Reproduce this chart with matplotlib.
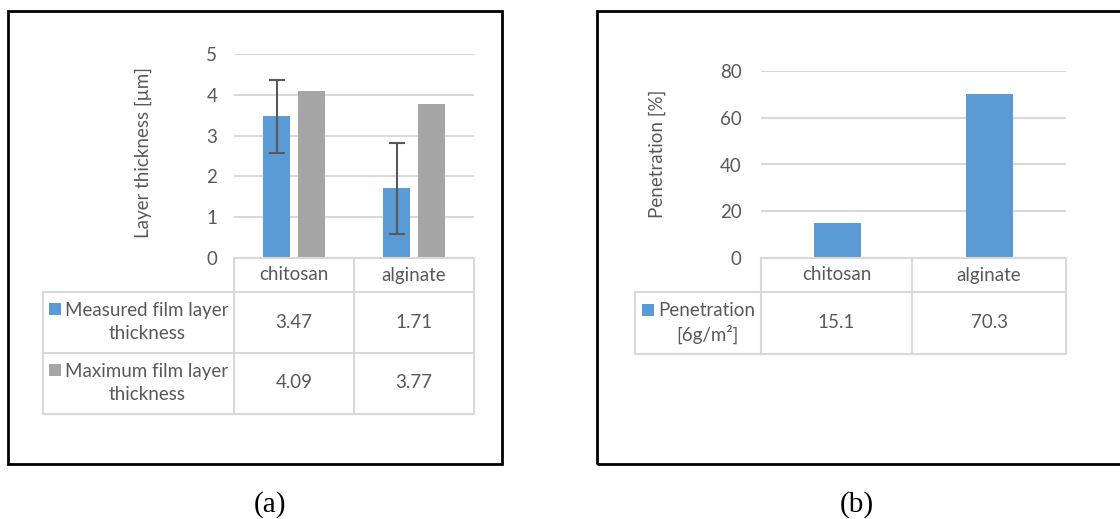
import numpy as np
import matplotlib
matplotlib.use("Agg")
import matplotlib.pyplot as plt
from matplotlib.patches import Rectangle
from matplotlib.lines import Line2D

# data
categories = ["chitosan", "alginate"]
measured = [3.47, 1.71]
measured_err = [0.9, 1.12]
maximum = [4.09, 3.77]
penetration = [15.1, 70.3]

BLUE = "#5b9bd5"
GRAY = "#a5a5a5"
TXT = "#595959"
GRID = "#d9d9d9"
FS = 13.5

W, H = 1120, 519
plt.rcParams['font.family'] = ['Lato', 'DejaVu Sans']

fig = plt.figure(figsize=(W / 100, H / 100), dpi=100)


def fx(x):
    return x / W


def fy(y):
    return 1 - y / H


def hline(x0, x1, y, color=GRID, lw=1.5):
    fig.add_artist(Line2D([fx(x0), fx(x1)], [fy(y), fy(y)], color=color, lw=lw))


def vline(x, y0, y1, color=GRID, lw=1.5):
    fig.add_artist(Line2D([fx(x), fx(x)], [fy(y0), fy(y1)], color=color, lw=lw))


def txt(x, y, s, **kw):
    kw.setdefault("color", TXT)
    kw.setdefault("fontsize", FS)
    kw.setdefault("ha", "center")
    kw.setdefault("va", "center")
    fig.text(fx(x), fy(y), s, **kw)


def square(x, y, color, size=12):
    fig.add_artist(Rectangle((fx(x), fy(y + size)), size / W, size / H, color=color, lw=0))


def make_axes(left, right, top, bottom):
    ax = fig.add_axes([fx(left), fy(bottom), (right - left) / W, (bottom - top) / H])
    for s in ax.spines.values():
        s.set_visible(False)
    ax.tick_params(length=0, colors=TXT, labelsize=FS)
    ax.set_xticks([])
    ax.yaxis.grid(True, color=GRID, lw=1.5)
    ax.set_axisbelow(True)
    ax.set_xlim(-0.5, len(categories) - 0.5)
    return ax


# outer frames
fig.add_artist(Rectangle((fx(8), fy(464)), (502 - 8) / W, (464 - 11) / H,
                         fill=False, ec="black", lw=2))
fig.add_artist(Rectangle((fx(597), fy(464)), (1125 - 597) / W, (464 - 11) / H,
                         fill=False, ec="black", lw=2))

# ---------- panel (a) ----------
x = np.arange(len(categories))
ax1 = make_axes(234, 474, 54, 258)
ax1.set_ylim(0, 5)
ax1.set_yticks(range(0, 6))
ax1.tick_params(axis="y", pad=12)
ax1.bar(x - 0.145, measured, 0.22, color=BLUE, yerr=measured_err,
        error_kw=dict(ecolor="#595959", lw=1.5, capsize=6, capthick=1.5))
ax1.bar(x + 0.145, maximum, 0.22, color=GRAY)
txt(143, 152, "Layer thickness [µm]", rotation=90)

# table (a)
colx = [43, 234, 354, 474]
rowy = [258, 292, 353, 414]
hline(234, 474, rowy[0])
for y in rowy[1:]:
    hline(colx[0], colx[-1], y)
vline(colx[0], rowy[1], rowy[-1])
for c in colx[1:]:
    vline(c, rowy[0], rowy[-1])
for i, cat in enumerate(categories):
    cx = (colx[i + 1] + colx[i + 2]) / 2
    txt(cx, 275, cat)
    txt(cx, 322, f"{measured[i]:.2f}")
    txt(cx, 383, f"{maximum[i]:.2f}")
txt(147, 322, "Measured film layer\nthickness", linespacing=1.4)
txt(147, 383, "Maximum film layer\nthickness", linespacing=1.4)
square(49, 303, BLUE)
square(49, 364, GRAY)

# ---------- panel (b) ----------
ax2 = make_axes(761, 1066, 71, 258)
ax2.set_ylim(0, 80)
ax2.set_yticks(range(0, 81, 20))
ax2.tick_params(axis="y", pad=14)
ax2.bar(x, penetration, 0.31, color=BLUE)
txt(657, 154, "Penetration [%]", rotation=90)

colx = [635, 761, 912, 1066]
rowy = [258, 292, 354]
hline(761, 1066, rowy[0])
for y in rowy[1:]:
    hline(colx[0], colx[-1], y)
vline(colx[0], rowy[1], rowy[-1])
for c in colx[1:]:
    vline(c, rowy[0], rowy[-1])
for i, cat in enumerate(categories):
    cx = (colx[i + 1] + colx[i + 2]) / 2
    txt(cx, 275, cat)
    txt(cx, 323, f"{penetration[i]:.1f}")
txt(707, 323, "Penetration\n[6g/m²]", linespacing=1.4)
square(642, 304, BLUE)

# captions
txt(270, 505, "(a)", color="black", fontsize=21, family="Liberation Serif")
txt(857, 505, "(b)", color="black", fontsize=21, family="Liberation Serif")

fig.savefig("out.png", dpi=100)
